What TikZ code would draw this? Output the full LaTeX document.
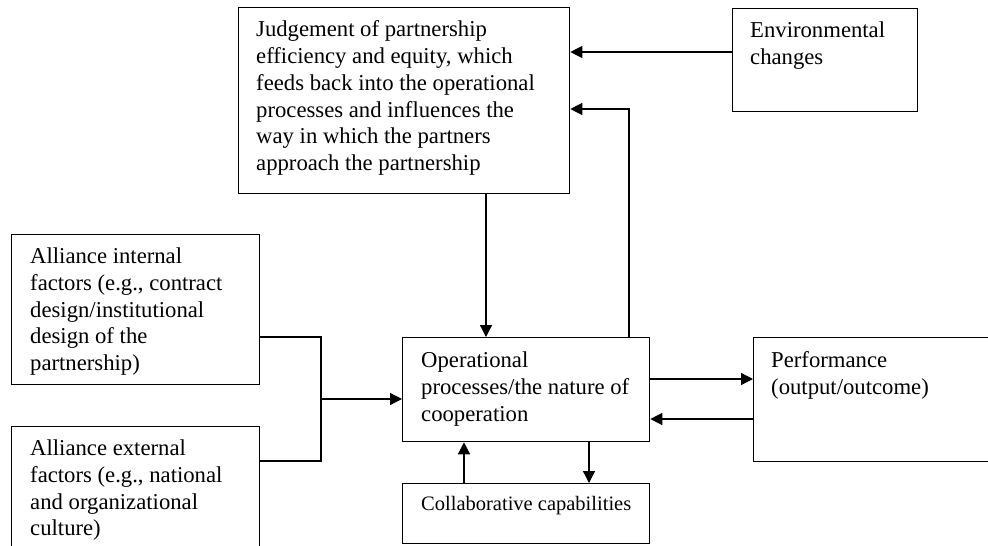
\documentclass[tikz,border=0pt]{standalone}
\usepackage{fontspec}
\setmainfont{Liberation Serif}
\usetikzlibrary{arrows.meta}
\begin{document}
\begin{tikzpicture}[x=1pt,y=-1pt,
  box/.style={draw, line width=1.3pt, rectangle, anchor=north west, inner sep=0pt},
  txt/.style={anchor=north west, align=left, inner sep=0pt, font=\fontsize{22.7}{26.8}\selectfont},
  arr/.style={line width=1.3pt, -{Triangle[length=12pt,width=12pt]}},
  ln/.style={line width=1.3pt}]
\useasboundingbox (0,0) rectangle (988,546);
\clip (0,0) rectangle (988,546);
% boxes
\node[box, minimum width=331, minimum height=186] (judge) at (238,7) {};
\node[box, minimum width=185, minimum height=103] (env) at (732,8) {};
\node[box, minimum width=248, minimum height=150] (int) at (11,234) {};
\node[box, minimum width=248, minimum height=150] (ext) at (11,426) {};
\node[box, minimum width=247, minimum height=104] (op) at (402,337) {};
\node[box, minimum width=247, minimum height=60] (col) at (402,483) {};
\node[box, minimum width=270, minimum height=124] (perf) at (753,337) {};
% texts (top = first baseline - 15.5)
\node[txt] (tj) at (256,20.5) {Judgement of partnership\\efficiency and equity, which\\feeds back into the operational\\processes and influences the\\way in which the partners\\approach the partnership};
\node[txt] (te) at (750,22) {Environmental\\changes};
\node[txt] (ti) at (30,247.5) {Alliance internal\\factors (e.g., contract\\design/institutional\\design of the\\partnership)};
\node[txt] (tx) at (30,439.5) {Alliance external\\factors (e.g., national\\and organizational\\culture)};
\node[txt] (to) at (421,351.5) {Operational\\processes/the nature of\\cooperation};
\node[txt, font=\fontsize{20.5}{24}\selectfont] (tc) at (421,496) {Collaborative capabilities};
\node[txt] (tp) at (771,351.5) {Performance\\(output/outcome)};
% helper coordinates
\coordinate (y52) at (0,52);
\coordinate (y109) at (0,109);
\coordinate (x629) at (629,0);
\coordinate (x486) at (486,0);
\coordinate (y337) at (0,337);
\coordinate (y461) at (0,461);
\coordinate (x321) at (321,0);
\coordinate (y399) at (0,399);
\coordinate (y379) at (0,379);
\coordinate (y419) at (0,419);
\coordinate (x464) at (464,0);
\coordinate (x589) at (589,0);
% connectors
\draw[arr] (env.west |- y52) -- (judge.east |- y52);
\draw[arr] (x629 |- op.north) -- (x629 |- y109) -- (judge.east |- y109);
\draw[arr] (x486 |- judge.south) -- (x486 |- op.north);
\draw[ln] (int.east |- y337) -- (x321 |- y337) -- (x321 |- y461) -- (ext.east |- y461);
\draw[arr] (x321 |- y399) -- (op.west |- y399);
\draw[arr] (op.east |- y379) -- (perf.west |- y379);
\draw[arr] (perf.west |- y419) -- (op.east |- y419);
\draw[arr] (x464 |- col.north) -- (x464 |- op.south);
\draw[arr] (x589 |- op.south) -- (x589 |- col.north);
\end{tikzpicture}
\end{document}
